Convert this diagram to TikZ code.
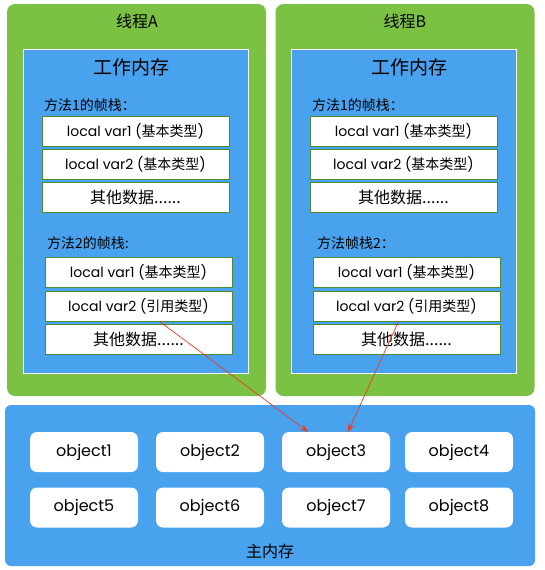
\documentclass[tikz,border=0pt]{standalone}
\usepackage{fontspec}
\setmainfont{Poppins}
\newfontfamily\cjk{Noto Sans CJK SC}
\usetikzlibrary{arrows.meta}
\definecolor{threadgreen}{HTML}{7BC143}
\definecolor{memblue}{HTML}{48A2EE}
\definecolor{slotedge}{HTML}{4E8A2E}
\definecolor{ptrred}{HTML}{F03A22}
\begin{document}
\begin{tikzpicture}[x=1pt, y=-1pt,
    thread/.style={fill=threadgreen, draw=none, rounded corners=8pt,
        minimum width=259pt, minimum height=392pt, inner sep=0pt},
    workmem/.style={fill=memblue, draw=white, line width=1pt,
        minimum width=225pt, minimum height=324pt, inner sep=0pt},
    slot/.style={fill=white, draw=slotedge, line width=0.8pt,
        minimum width=187pt, minimum height=30pt, inner sep=0pt, font=\fontsize{14}{16}\selectfont},
    other/.style={slot, font=\fontsize{16}{18}\selectfont},
    obj/.style={fill=white, draw=none, rounded corners=7pt,
        minimum width=108pt, minimum height=40pt, inner sep=0pt, font=\fontsize{16}{18}\selectfont},
    caption/.style={font=\fontsize{14}{16}\selectfont, anchor=west, inner sep=0pt},
    ptr/.style={ptrred, line width=0.7pt, -{Stealth[length=8pt, width=6pt]}}]
    \useasboundingbox (0,0) rectangle (545,570);

    % --- Thread A ---
    \node[thread] (threadA) at (136.5, 200) {};
    \node[font=\fontsize{16}{18}\selectfont] (titleA) at (137, 21) {\cjk 线程A};
    \node[workmem] (memA) at (135.5, 211) {};
    \node[font=\fontsize{19}{21}\selectfont] (wmA) at (131, 67) {\cjk 工作内存};
    \node[caption] (capA1) at (44, 105) {\cjk 方法1的帧栈：};
    \node[slot] (slotA1) at (135.5, 131.5) {local var1 ({\cjk 基本类型})};
    \node[slot] (slotA2) at (135.5, 164) {local var2 ({\cjk 基本类型})};
    \node[other] (slotA3) at (135.5, 197) {\cjk 其他数据......};
    \node[caption] (capA2) at (47, 243) {\cjk 方法2的帧栈:};
    \node[slot] (slotA4) at (138.5, 272.5) {local var1 ({\cjk 基本类型})};
    \node[slot] (slotA5) at (138.5, 306) {local var2 ({\cjk 引用类型})};
    \node[other] (slotA6) at (138.5, 339) {\cjk 其他数据......};

    % --- Thread B ---
    \node[thread] (threadB) at (405, 200) {};
    \node[font=\fontsize{16}{18}\selectfont] (titleB) at (405, 21) {\cjk 线程B};
    \node[workmem] (memB) at (403.5, 211) {};
    \node[font=\fontsize{19}{21}\selectfont] (wmB) at (409, 67) {\cjk 工作内存};
    \node[caption] (capB1) at (312, 105) {\cjk 方法1的帧栈：};
    \node[slot] (slotB1) at (403.5, 131.5) {local var1 ({\cjk 基本类型})};
    \node[slot] (slotB2) at (403.5, 164) {local var2 ({\cjk 基本类型})};
    \node[other] (slotB3) at (403.5, 197) {\cjk 其他数据......};
    \node[caption] (capB2) at (317, 243) {\cjk 方法帧栈2：};
    \node[slot] (slotB4) at (406.5, 272.5) {local var1 ({\cjk 基本类型})};
    \node[slot] (slotB5) at (406.5, 306) {local var2 ({\cjk 引用类型})};
    \node[other] (slotB6) at (406.5, 339) {\cjk 其他数据......};

    % --- Main memory ---
    \node[fill=memblue, rounded corners=6pt, minimum width=530pt, minimum height=161pt] (heap) at (270, 485.5) {};
    \node[font=\fontsize{16}{18}\selectfont] (heapname) at (270, 551) {\cjk 主内存};
    \node[obj] (obj1) at (84, 452) {object1};
    \node[obj] (obj2) at (210, 452) {object2};
    \node[obj] (obj3) at (336, 452) {object3};
    \node[obj] (obj4) at (459, 452) {object4};
    \node[obj] (obj5) at (84, 507.5) {object5};
    \node[obj] (obj6) at (210, 507.5) {object6};
    \node[obj] (obj7) at (336, 507.5) {object7};
    \node[obj] (obj8) at (459, 507.5) {object8};

    % --- References ---
    \draw[ptr] ([xshift=21pt]slotA5.south) -- ([xshift=-28pt]obj3.north);
    \draw[ptr] ([xshift=-8pt]slotB5.south) -- ([xshift=12pt]obj3.north);
\end{tikzpicture}
\end{document}
